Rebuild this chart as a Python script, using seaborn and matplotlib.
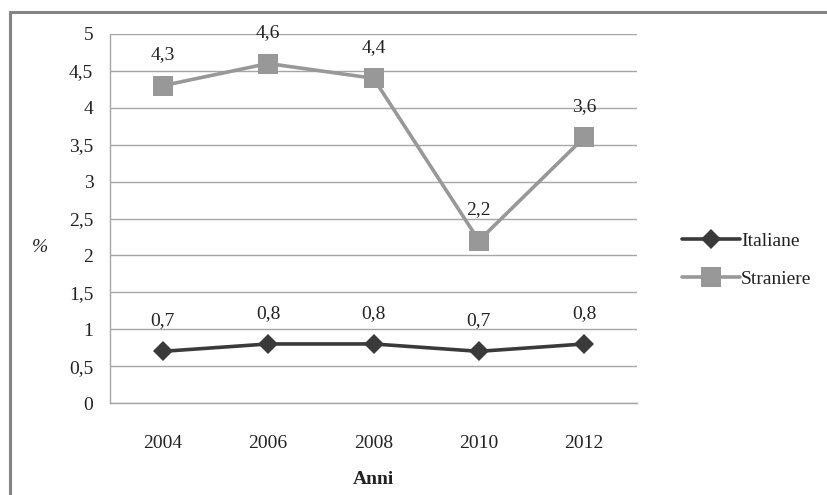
import matplotlib
matplotlib.use("Agg")
import matplotlib.pyplot as plt
from matplotlib.patches import Rectangle
from matplotlib.lines import Line2D
import seaborn as sns
import pandas as pd

# Data
anni = [2004, 2006, 2008, 2010, 2012]
italiane = [0.7, 0.8, 0.8, 0.7, 0.8]
straniere = [4.3, 4.6, 4.4, 2.2, 3.6]
y_ticks = [0, 0.5, 1, 1.5, 2, 2.5, 3, 3.5, 4, 4.5, 5]

sns.set_theme(style="white")
plt.rcParams["font.family"] = ["Liberation Serif", "DejaVu Serif"]

df = pd.DataFrame({
    "Anni": anni * 2,
    "valore": italiane + straniere,
    "serie": ["Italiane"] * len(anni) + ["Straniere"] * len(anni),
})

FS = 14
TXT = "#222222"

fig = plt.figure(figsize=(8.27, 4.95), dpi=100)
ax = fig.add_axes([110 / 827, 1 - 403 / 495, (637 - 110) / 827, (403 - 34) / 495])

col_it = "#3a3a3a"
col_st = "#989898"
grid_col = "#a6a6a6"

sns.lineplot(data=df[df.serie == "Italiane"], x="Anni", y="valore", ax=ax,
             color=col_it, lw=2.6, marker="D", markersize=10,
             markeredgewidth=0, legend=False, zorder=4)
sns.lineplot(data=df[df.serie == "Straniere"], x="Anni", y="valore", ax=ax,
             color=col_st, lw=2.6, marker="s", markersize=14,
             markeredgewidth=0, legend=False, zorder=3)

# value labels
for serie in (italiane, straniere):
    for x, v in zip(anni, serie):
        ax.annotate(f"{v:.1f}".replace(".", ","), (x, v), xytext=(0, 16),
                    textcoords="offset points", ha="center", va="bottom",
                    fontsize=FS, color=TXT)

ax.set_xlim(2003, 2013)
ax.set_ylim(0, 5)
ax.set_xticks(anni)
ax.set_xticklabels([str(a) for a in anni], fontsize=FS, color=TXT)
ax.set_xticks([2003, 2005, 2007, 2009, 2011, 2013], minor=True)
ax.tick_params(axis="x", which="major", length=0, pad=23)
ax.tick_params(axis="x", which="minor", length=6, width=1, color=grid_col,
               direction="out")
ax.set_yticks(y_ticks)
ax.set_yticklabels([f"{t:g}".replace(".", ",") for t in y_ticks],
                   fontsize=FS, color=TXT)
ax.tick_params(axis="y", which="major", length=6, width=1, color=grid_col,
               direction="out", pad=6)

ax.yaxis.grid(True, color=grid_col, lw=1)
ax.xaxis.grid(False)
for s in ["top", "right"]:
    ax.spines[s].set_visible(False)
for s in ["left", "bottom"]:
    ax.spines[s].set_color(grid_col)
    ax.spines[s].set_linewidth(1)

ax.set_xlabel("Anni", fontsize=FS, fontweight="bold", color=TXT, labelpad=14)
ax.set_ylabel("%", fontsize=FS, fontstyle="italic", rotation=0, color=TXT,
              va="center", ha="center")
ax.yaxis.set_label_coords((40 - 110) / 527, (403 - 248) / 369)

handles = [
    Line2D([], [], color=col_it, lw=2.6, marker="D", markersize=10,
           markeredgewidth=0, label="Italiane"),
    Line2D([], [], color=col_st, lw=2.6, marker="s", markersize=14,
           markeredgewidth=0, label="Straniere"),
]
fig.legend(handles=handles, loc="center left",
           bbox_to_anchor=(664 / 827, 1 - 260 / 495), frameon=False,
           fontsize=FS, handlelength=3.0, handletextpad=0.05,
           labelspacing=1.05, labelcolor=TXT)

# outer frame of the chart area
fig.add_artist(Rectangle((9.5 / 827, -0.05), 1.2, 1 - 11.5 / 495 + 0.05,
                         transform=fig.transFigure, fill=False,
                         edgecolor="#858585", lw=2.2, clip_on=False))

fig.savefig("out.png", dpi=100)
